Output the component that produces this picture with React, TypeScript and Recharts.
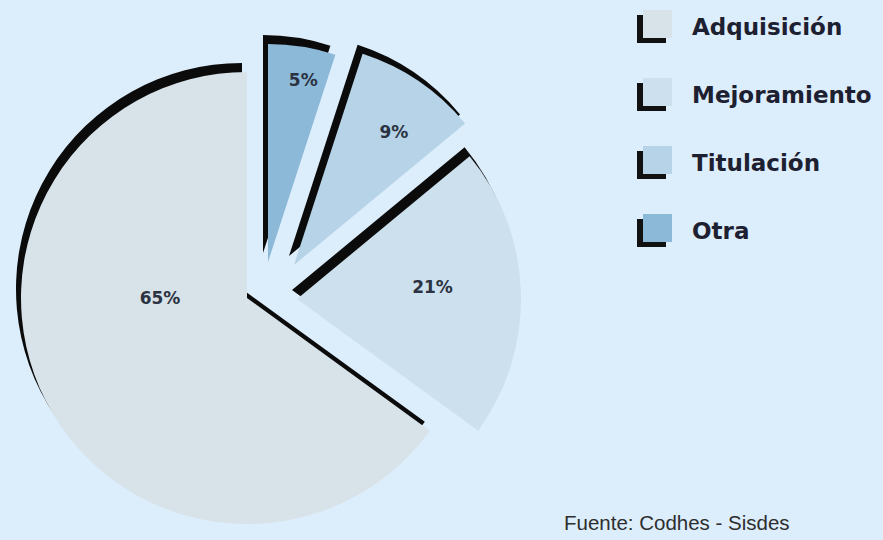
import React from 'react';
import { Cell, Legend, Pie, PieChart } from 'recharts';

const categories = ['Adquisición', 'Mejoramiento', 'Titulación', 'Otra'];
const shares = [65, 21, 9, 5];
const colors = ['#d8e2e9', '#cde0ed', '#b6d3e8', '#8db9d9'];

// layout of the exploded slices (px), not data
const base = { x: 247, y: 298 };
const explode = [
  [0, 0],
  [50, 1],
  [47, -33],
  [21, -36],
];
const radii = [226, 224, 222, 218];
const shadow = { dx: -5, dy: -9 };
const labelRadius = [87, 136, 166, 185];
const labelAngle = [180, 5, 53, 79];

const data = categories.map((name, i) => ({ name, value: shares[i] }));

const BG = '#dcedfb';

function makeLabel(k: number) {
  return (p: any) => {
    if (p.index !== k) return null;
    const a = (labelAngle[k] * Math.PI) / 180;
    const x = p.cx + labelRadius[k] * Math.cos(a);
    const y = p.cy - labelRadius[k] * Math.sin(a);
    return (
      <text
        x={x}
        y={y}
        textAnchor="middle"
        dominantBaseline="central"
        fontFamily="'DejaVu Sans', sans-serif"
        fontWeight="bold"
        fontSize={17}
        fill="#2b3342"
      >
        {`${p.value}%`}
      </text>
    );
  };
}

function LegendBox() {
  return (
    <div style={{ position: 'relative', width: 253, height: 260 }}>
      {categories.map((c, i) => {
        const top = 10 + i * 68;
        return (
          <div key={c}>
            <div
              style={{
                position: 'absolute',
                left: 7,
                top: top + 5,
                width: 29,
                height: 28,
                background: '#111',
              }}
            />
            <div
              style={{
                position: 'absolute',
                left: 13,
                top,
                width: 29,
                height: 28,
                background: colors[i],
              }}
            />
            <div
              style={{
                position: 'absolute',
                left: 62,
                top: top,
                lineHeight: '34px',
                fontFamily: "'DejaVu Sans', sans-serif",
                fontWeight: 'bold',
                fontSize: 23,
                color: '#1c2030',
                whiteSpace: 'nowrap',
              }}
            >
              {c}
            </div>
          </div>
        );
      })}
    </div>
  );
}

export default function App() {
  return (
    <div
      style={{
        position: 'absolute',
        left: 0,
        top: 0,
        width: 883,
        height: 540,
        background: BG,
        overflow: 'hidden',
      }}
    >
      <PieChart width={883} height={540} margin={{ top: 0, right: 0, bottom: 0, left: 0 }}>
        {data.map((_, k) => (
          <Pie
            key={`s${k}`}
            data={data}
            dataKey="value"
            nameKey="name"
            cx={base.x + explode[k][0] + shadow.dx}
            cy={base.y + explode[k][1] + shadow.dy}
            outerRadius={radii[k]}
            startAngle={90}
            endAngle={450}
            stroke="none"
            isAnimationActive={false}
            legendType="none"
          >
            {data.map((d, i) => (
              <Cell key={d.name} fill={i === k ? '#0b0b0b' : 'transparent'} />
            ))}
          </Pie>
        ))}
        {data.map((_, k) => (
          <Pie
            key={`p${k}`}
            data={data}
            dataKey="value"
            nameKey="name"
            cx={base.x + explode[k][0]}
            cy={base.y + explode[k][1]}
            outerRadius={radii[k]}
            startAngle={90}
            endAngle={450}
            stroke="none"
            isAnimationActive={false}
            label={makeLabel(k)}
            labelLine={false}
            legendType="none"
          >
            {data.map((d, i) => (
              <Cell key={d.name} fill={i === k ? colors[i] : 'transparent'} />
            ))}
          </Pie>
        ))}
        <Legend
          content={() => <LegendBox />}
          wrapperStyle={{ position: 'absolute', top: 0, left: 630, width: 253 }}
        />
      </PieChart>
      <div
        style={{
          position: 'absolute',
          left: 564,
          top: 511,
          fontFamily: "'Liberation Sans', Arial, sans-serif",
          fontSize: 20.5,
          color: '#2e2e2e',
          whiteSpace: 'nowrap',
        }}
      >
        Fuente: Codhes - Sisdes
      </div>
    </div>
  );
}
